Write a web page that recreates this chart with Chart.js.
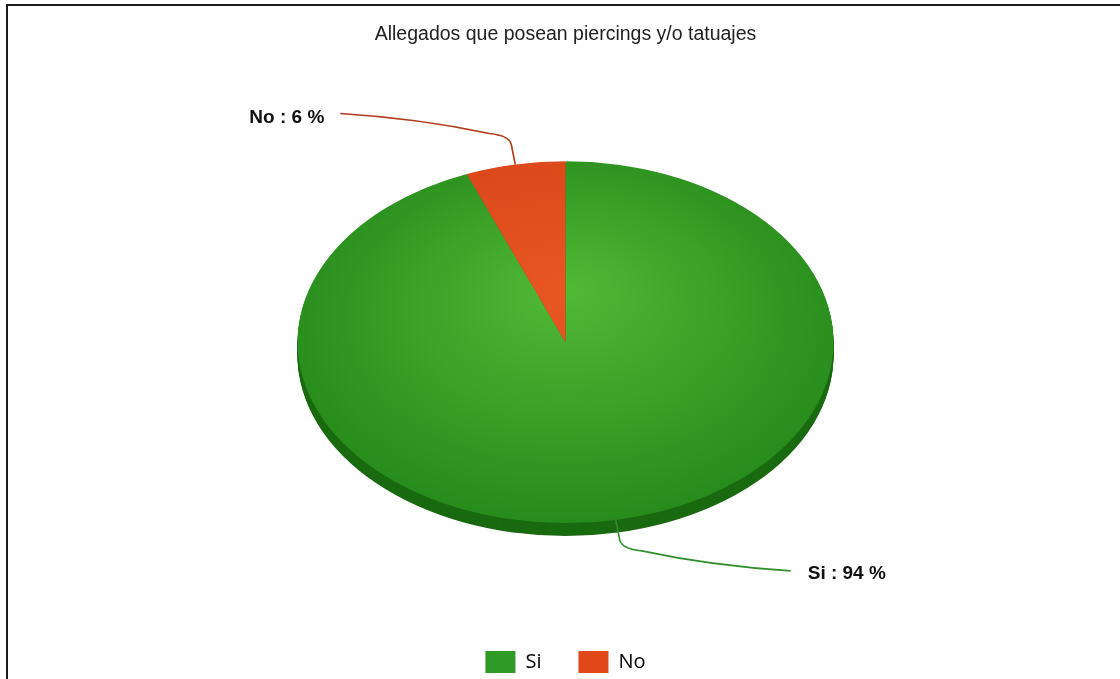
<!DOCTYPE html>
<html>
<head>
<meta charset="utf-8">
<script src="https://cdn.jsdelivr.net/npm/chart.js@4/dist/chart.umd.min.js"></script>
<style>
  body { margin: 0; background: #fff; }
  #wrap { position: relative; width: 1120px; height: 679px; overflow: hidden; }
  #frame { position: absolute; left: 6px; top: 4px; right: 0; bottom: 0;
           border-top: 2px solid #1c1c1c; border-left: 2px solid #1c1c1c; }
  #pie { position: absolute; left: 0; top: 0; }
</style>
</head>
<body>
<div id="wrap">
  <div id="frame"></div>
  <canvas id="pie" width="1120" height="679"></canvas>
</div>
<script>
// DATA
const titleText = "Allegados que posean piercings y/o tatuajes";
const labels = ["Si", "No"];
const values = [94, 6];

// colours
const innerColors = ["#52b936", "#e85622"];
const outerColors = ["#258a1a", "#d8461a"];
const sideColors = ["#1a6a10", "#a8330f"];
const legendColors = ["#2f9a26", "#e0481a"];
const lineColors = ["#2f8f2a", "#b23a16"];

const tilt = 0.675;   // vertical squash of the pie
const depth = 13;     // thickness of the 3d edge

function sliceFill(context) {
  const chart = context.chart;
  const area = chart.chartArea;
  const i = context.dataIndex;
  if (!area) return legendColors[i];
  const cx = (area.left + area.right) / 2;
  const cy = (area.top + area.bottom) / 2;
  const g = chart.ctx.createRadialGradient(cx, cy - 80, 0, cx, cy - 20, 300);
  g.addColorStop(0, innerColors[i]);
  g.addColorStop(1, outerColors[i]);
  return g;
}

// draws the thick edge, then squashes the pie into an ellipse
const tiltPlugin = {
  id: "tilt",
  afterLayout(chart) {
    // nudge the legend a little lower
    chart.legend.top += 4;
    chart.legend.bottom += 4;
  },
  beforeDatasetsDraw(chart) {
    const ctx = chart.ctx;
    const meta = chart.getDatasetMeta(0);
    const cx = meta.data[0].x, cy = meta.data[0].y;
    for (let k = depth; k >= 1; k--) {
      ctx.save();
      ctx.translate(cx, cy + k);
      ctx.scale(1, tilt);
      ctx.translate(-cx, -cy);
      meta.data.forEach((arc, i) => {
        ctx.beginPath();
        ctx.moveTo(arc.x, arc.y);
        ctx.arc(arc.x, arc.y, arc.outerRadius, arc.startAngle, arc.endAngle);
        ctx.closePath();
        ctx.fillStyle = sideColors[i];
        ctx.fill();
      });
      ctx.restore();
    }
    ctx.save();
    ctx.translate(cx, cy);
    ctx.scale(1, tilt);
    ctx.translate(-cx, -cy);
  },
  afterDatasetsDraw(chart) {
    const ctx = chart.ctx;
    ctx.restore();

    // leader lines + labels
    const meta = chart.getDatasetMeta(0);
    const total = values.reduce((a, b) => a + b, 0);
    meta.data.forEach((arc, i) => {
      const mid = (arc.startAngle + arc.endAngle) / 2;
      const ex = arc.x + arc.outerRadius * Math.cos(mid);
      const ey = arc.y + arc.outerRadius * Math.sin(mid) * tilt;
      const side = Math.cos(mid) < 0 ? -1 : 1;
      const v = Math.sin(mid) < 0 ? -1 : 1;
      const p1 = { x: ex + side * 4, y: ey + v * 20 };
      const p2 = { x: p1.x + side * 22, y: p1.y + v * 11 };
      const end = { x: ex + side * 175, y: ey + v * 51 };

      ctx.save();
      ctx.strokeStyle = lineColors[i];
      ctx.lineWidth = 1.6;
      ctx.beginPath();
      ctx.moveTo(ex, ey);
      ctx.lineTo(p1.x, p1.y);
      ctx.quadraticCurveTo(p1.x + side * 2, p1.y + v * 9, p2.x, p2.y);
      ctx.quadraticCurveTo(p2.x + side * 70, end.y - v * 5, end.x, end.y);
      ctx.stroke();

      const pct = Math.round(values[i] / total * 100);
      ctx.font = "bold 19px 'Liberation Sans', Arial, sans-serif";
      ctx.fillStyle = "#111";
      ctx.textBaseline = "middle";
      if (side < 0) {
        ctx.textAlign = "right";
        ctx.fillText(labels[i] + " : " + pct + " %", end.x - 16, end.y + 4);
      } else {
        ctx.textAlign = "left";
        ctx.fillText(labels[i] + " : " + pct + " %", end.x + 17, end.y + 3);
      }
      ctx.restore();
    });
  }
};

const ctx = document.getElementById("pie").getContext("2d");

const config = {
  type: "pie",
  data: {
    labels: labels,
    datasets: [
      {
        data: values,
        backgroundColor: sliceFill,
        borderWidth: 0,
        radius: 268,
      },
    ],
  },
  options: {
    responsive: false,
    animation: false,
    layout: { padding: { left: 11 } },
    plugins: {
      tooltip: { enabled: false },
      title: {
        display: true,
        text: titleText,
        color: "#222",
        font: { family: "'Liberation Sans', Arial, sans-serif", size: 19.5, weight: "normal" },
        padding: { top: 23, bottom: 28 },
      },
      legend: {
        position: "bottom",
        labels: {
          boxWidth: 30,
          boxHeight: 22,
          padding: 37,
          color: "#444",
          font: { family: "'Open Sans', sans-serif", size: 20 },
          generateLabels: () => labels.map((l, i) => ({
            text: l,
            fillStyle: legendColors[i],
            strokeStyle: legendColors[i],
            lineWidth: 0,
            hidden: false,
            index: i,
          })),
        },
      },
    },
  },
  plugins: [tiltPlugin],
};

const pieChart = new Chart(ctx, config);
</script>
</body>
</html>
